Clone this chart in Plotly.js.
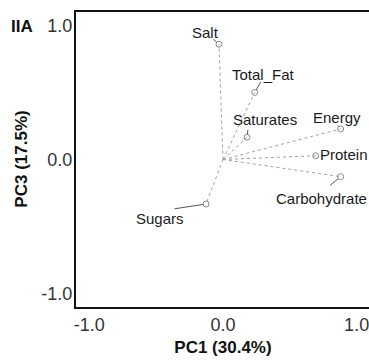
<!DOCTYPE html>
<html>
<head>
<meta charset="utf-8">
<script src="https://cdn.plot.ly/plotly-3.0.1.min.js"></script>
<style>
html,body{margin:0;padding:0;overflow:hidden;background:#fff;}
#chart{width:374px;height:361px;}
</style>
</head>
<body>
<div id="chart"></div>
<script>
var variables = ["Salt","Total_Fat","Saturates","Energy","Protein","Carbohydrate","Sugars"];
var pc1 = [-0.03, 0.237, 0.18, 0.88, 0.694, 0.88, -0.127];
var pc3 = [0.86, 0.50, 0.166, 0.228, 0.028, -0.128, -0.332];
var xTickVals = [-1, 0, 1];
var xTickText = ["-1.0", "0.0", "1.0"];
var yTickVals = [-1, 0, 1];
var yTickText = ["-1.0", "0.0", "1.0"];

// label placement (pixel shifts) and leader-line tails relative to each point
var textShift = {
  "Salt": [-13, 12, 'center'],
  "Total_Fat": [8.5, 18, 'center'],
  "Saturates": [18, 18, 'center'],
  "Energy": [-4, 11, 'center'],
  "Protein": [2, 1, 'left'],
  "Carbohydrate": [-19, -22, 'center'],
  "Sugars": [-46, -14, 'center']
};
var leaderTail = {
  "Salt": [-7, -6],
  "Total_Fat": [7, -12],
  "Saturates": [1, -9],
  "Energy": [-4, -5],
  "Protein": null,
  "Carbohydrate": [-12, 10],
  "Sugars": [-33, 5]
};

var lx = [], ly = [];
for (var i = 0; i < variables.length; i++) {
  lx.push(0, pc1[i], null);
  ly.push(0, pc3[i], null);
}

var traces = [
  {
    x: lx, y: ly, type: 'scatter', mode: 'lines',
    line: {color: '#a0a0a0', width: 1, dash: 'dot'},
    hoverinfo: 'skip', showlegend: false
  },
  {
    x: pc1, y: pc3, type: 'scatter', mode: 'markers',
    marker: {symbol: 'circle-open', size: 6, color: '#8a8a8a', line: {width: 1, color: '#8a8a8a'}},
    text: variables, showlegend: false
  }
];

var lblFont = {family: 'Liberation Sans, Arial, sans-serif', size: 15, color: '#1a1a1a'};
var annotations = [];
for (var j = 0; j < variables.length; j++) {
  var name = variables[j];
  var ts = textShift[name];
  annotations.push({
    x: pc1[j], y: pc3[j], xref: 'x', yref: 'y',
    text: name, showarrow: false, xanchor: ts[2], yanchor: 'middle',
    xshift: ts[0], yshift: ts[1], font: lblFont
  });
  var lt = leaderTail[name];
  if (lt) {
    annotations.push({
      x: pc1[j], y: pc3[j], xref: 'x', yref: 'y',
      text: '', showarrow: true, arrowhead: 0, arrowwidth: 1,
      arrowcolor: '#555', ax: lt[0], ay: lt[1], standoff: 3
    });
  }
}
annotations.push({
  xref: 'paper', yref: 'paper', x: -0.185, y: 0.962, xanchor: 'center', yanchor: 'middle',
  yshift: -3,
  text: '<b>IIA</b>', showarrow: false,
  font: {family: 'Liberation Sans, Arial, sans-serif', size: 17, color: '#111'}
});
annotations.push({
  xref: 'paper', yref: 'paper', x: -0.19, y: 0.5, xanchor: 'center', yanchor: 'middle',
  xshift: 1,
  text: '<b>PC3 (17.5%)</b>', showarrow: false, textangle: -90,
  font: {family: 'Liberation Sans, Arial, sans-serif', size: 17, color: '#111'}
});

var layout = {
  width: 374, height: 361,
  margin: {l: 76, r: 4, t: 12, b: 54},
  paper_bgcolor: '#fff', plot_bgcolor: '#fff',
  font: {family: 'Liberation Sans, Arial, sans-serif', color: '#222'},
  xaxis: {
    range: [-1.1, 1.1], tickvals: xTickVals, ticktext: xTickText,
    showgrid: false, zeroline: false, showline: true, mirror: true,
    linecolor: '#111', linewidth: 2, ticks: '',
    tickfont: {size: 18, color: '#333'},
    title: {text: '<b>PC1 (30.4%)</b>', font: {size: 17, color: '#111'}, standoff: 8}
  },
  yaxis: {
    range: [-1.1, 1.1], tickvals: yTickVals, ticktext: yTickText,
    showgrid: false, zeroline: false, showline: true, mirror: true,
    linecolor: '#111', linewidth: 2, ticks: '',
    tickfont: {size: 18, color: '#333'}, ticklabelstandoff: -2,
    title: {text: ''}
  },
  annotations: annotations
};

Plotly.newPlot('chart', traces, layout, {displayModeBar: false, staticPlot: true});
</script>
</body>
</html>
